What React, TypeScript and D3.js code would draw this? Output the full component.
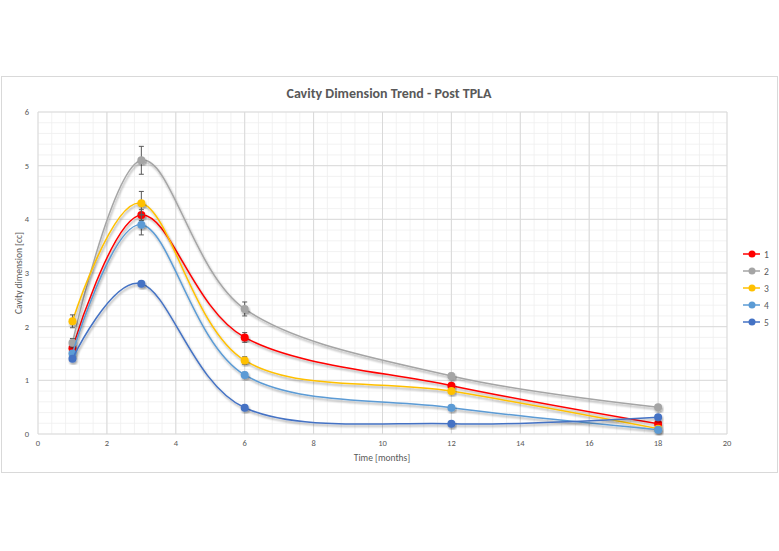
import React, { useEffect, useRef } from 'react'
import * as d3 from 'd3'

// time points (months)
const months = [1, 3, 6, 12, 18]

// series values
const series1 = [1.6, 4.08, 1.8, 0.9, 0.19]
const series2 = [1.7, 5.1, 2.33, 1.08, 0.5]
const series3 = [2.1, 4.3, 1.37, 0.8, 0.1]
const series4 = [1.5, 3.9, 1.1, 0.49, 0.08]
const series5 = [1.4, 2.8, 0.49, 0.19, 0.31]

// error bar half-widths (0 = none)
const err1 = [0.05, 0.1, 0.09, 0.04, 0]
const err2 = [0.08, 0.26, 0.13, 0.05, 0]
const err3 = [0.12, 0.22, 0.07, 0, 0]
const err4 = [0.05, 0.19, 0.05, 0, 0]
const err5 = [0.04, 0, 0, 0, 0]

const seriesNames = ['1', '2', '3', '4', '5']
const seriesColors = ['#FF0000', '#A5A5A5', '#FFC000', '#5B9BD5', '#4472C4']
const xTicks = [0, 2, 4, 6, 8, 10, 12, 14, 16, 18, 20]
const yTicks = [0, 1, 2, 3, 4, 5, 6]

const W = 779, H = 551
const plot = { left: 38, right: 727, top: 112, bottom: 434 }
const font = 'Calibri, Carlito, "Open Sans", sans-serif'
const textColor = '#595959'

export default function App () {
  const ref = useRef<SVGSVGElement>(null)

  useEffect(() => {
    const svg = d3.select(ref.current)
    svg.selectAll('*').remove()

    const x = d3.scaleLinear().domain([0, 20]).range([plot.left, plot.right])
    const y = d3.scaleLinear().domain([0, 6]).range([plot.bottom, plot.top])

    const defs = svg.append('defs')
    defs.append('filter')
      .attr('id', 'shadow')
      .attr('x', '-20%').attr('y', '-20%')
      .attr('width', '140%').attr('height', '140%')
      .append('feDropShadow')
      .attr('dx', 1).attr('dy', 2)
      .attr('stdDeviation', 1.2)
      .attr('flood-color', '#000')
      .attr('flood-opacity', 0.35)

    // chart frame
    svg.append('rect')
      .attr('x', 1.5).attr('y', 76.5)
      .attr('width', 776).attr('height', 396)
      .attr('fill', '#fff')
      .attr('stroke', '#d9d9d9')

    // title
    svg.append('text')
      .attr('x', 389).attr('y', 98)
      .attr('text-anchor', 'middle')
      .attr('font-family', font)
      .attr('font-weight', 'bold')
      .attr('font-size', 14)
      .attr('fill', textColor)
      .text('Cavity Dimension Trend - Post TPLA')

    // grid
    const grid = svg.append('g')
    const minorX = d3.range(0, 20.001, 0.4)
    const minorY = d3.range(0, 6.001, 0.2)
    grid.selectAll('.mx').data(minorX).enter().append('line')
      .attr('x1', d => x(d)).attr('x2', d => x(d))
      .attr('y1', plot.top).attr('y2', plot.bottom)
      .attr('stroke', '#efefef').attr('stroke-width', 0.8)
    grid.selectAll('.my').data(minorY).enter().append('line')
      .attr('y1', d => y(d)).attr('y2', d => y(d))
      .attr('x1', plot.left).attr('x2', plot.right)
      .attr('stroke', '#efefef').attr('stroke-width', 0.8)
    grid.selectAll('.gx').data(xTicks).enter().append('line')
      .attr('x1', d => x(d)).attr('x2', d => x(d))
      .attr('y1', plot.top).attr('y2', plot.bottom)
      .attr('stroke', '#d9d9d9')
    grid.selectAll('.gy').data(yTicks).enter().append('line')
      .attr('y1', d => y(d)).attr('y2', d => y(d))
      .attr('x1', plot.left).attr('x2', plot.right)
      .attr('stroke', '#d9d9d9')

    // tick labels
    svg.append('g').selectAll('text').data(xTicks).enter().append('text')
      .attr('x', d => x(d)).attr('y', plot.bottom + 12)
      .attr('text-anchor', 'middle')
      .attr('font-family', font).attr('font-size', 8.5)
      .attr('fill', textColor)
      .text(d => d)
    svg.append('g').selectAll('text').data(yTicks).enter().append('text')
      .attr('x', plot.left - 9).attr('y', d => y(d) + 3)
      .attr('text-anchor', 'end')
      .attr('font-family', font).attr('font-size', 8.5)
      .attr('fill', textColor)
      .text(d => d)

    // axis titles
    svg.append('text')
      .attr('x', 382).attr('y', 461)
      .attr('text-anchor', 'middle')
      .attr('font-family', font).attr('font-size', 9.5)
      .attr('fill', textColor)
      .text('Time [months]')
    svg.append('text')
      .attr('transform', `translate(22, 273) rotate(-90)`)
      .attr('text-anchor', 'middle')
      .attr('font-family', font).attr('font-size', 9.5)
      .attr('fill', textColor)
      .text('Cavity dimension  [cc]')

    const allSeries = [series1, series2, series3, series4, series5]
    const allErr = [err1, err2, err3, err4, err5]
    const line = d3.line<number>()
      .x((d, i) => x(months[i]))
      .y(d => y(d))
      .curve(d3.curveCardinal.tension(0))

    const lines = svg.append('g')
    allSeries.forEach((vals, s) => {
      const g = lines.append('g').attr('class', `series-${s + 1}`)
      g.append('path')
        .attr('d', line(vals))
        .attr('fill', 'none')
        .attr('stroke', seriesColors[s])
        .attr('stroke-width', 1.5)
        .attr('filter', 'url(#shadow)')

      // error bars
      const eg = g.append('g')
      vals.forEach((v, i) => {
        const e = allErr[s][i]
        if (!e) return
        const cx = x(months[i])
        eg.append('line')
          .attr('x1', cx).attr('x2', cx)
          .attr('y1', y(v - e)).attr('y2', y(v + e))
          .attr('stroke', '#595959').attr('stroke-width', 1)
        ;[v - e, v + e].forEach(t => {
          eg.append('line')
            .attr('x1', cx - 2.5).attr('x2', cx + 2.5)
            .attr('y1', y(t)).attr('y2', y(t))
            .attr('stroke', '#595959').attr('stroke-width', 1)
        })
      })

      g.selectAll('circle').data(vals).enter().append('circle')
        .attr('cx', (d, i) => x(months[i]))
        .attr('cy', d => y(d))
        .attr('r', 4)
        .attr('fill', seriesColors[s])
        .attr('filter', 'url(#shadow)')
    })

    // legend
    const legend = svg.append('g')
    seriesNames.forEach((name, i) => {
      const ly = 254 + i * 17
      const lg = legend.append('g')
      lg.append('line')
        .attr('x1', 743).attr('x2', 760)
        .attr('y1', ly).attr('y2', ly)
        .attr('stroke', seriesColors[i]).attr('stroke-width', 1.5)
      lg.append('circle')
        .attr('cx', 752).attr('cy', ly).attr('r', 3.5)
        .attr('fill', seriesColors[i])
      lg.append('text')
        .attr('x', 764).attr('y', ly + 3.5)
        .attr('font-family', font).attr('font-size', 9.5)
        .attr('fill', textColor)
        .text(name)
    })
  }, [])

  return (
    <svg ref={ref} width={W} height={H}
      style={{ position: 'absolute', left: 0, top: 0, background: '#fff' }} />
  )
}
